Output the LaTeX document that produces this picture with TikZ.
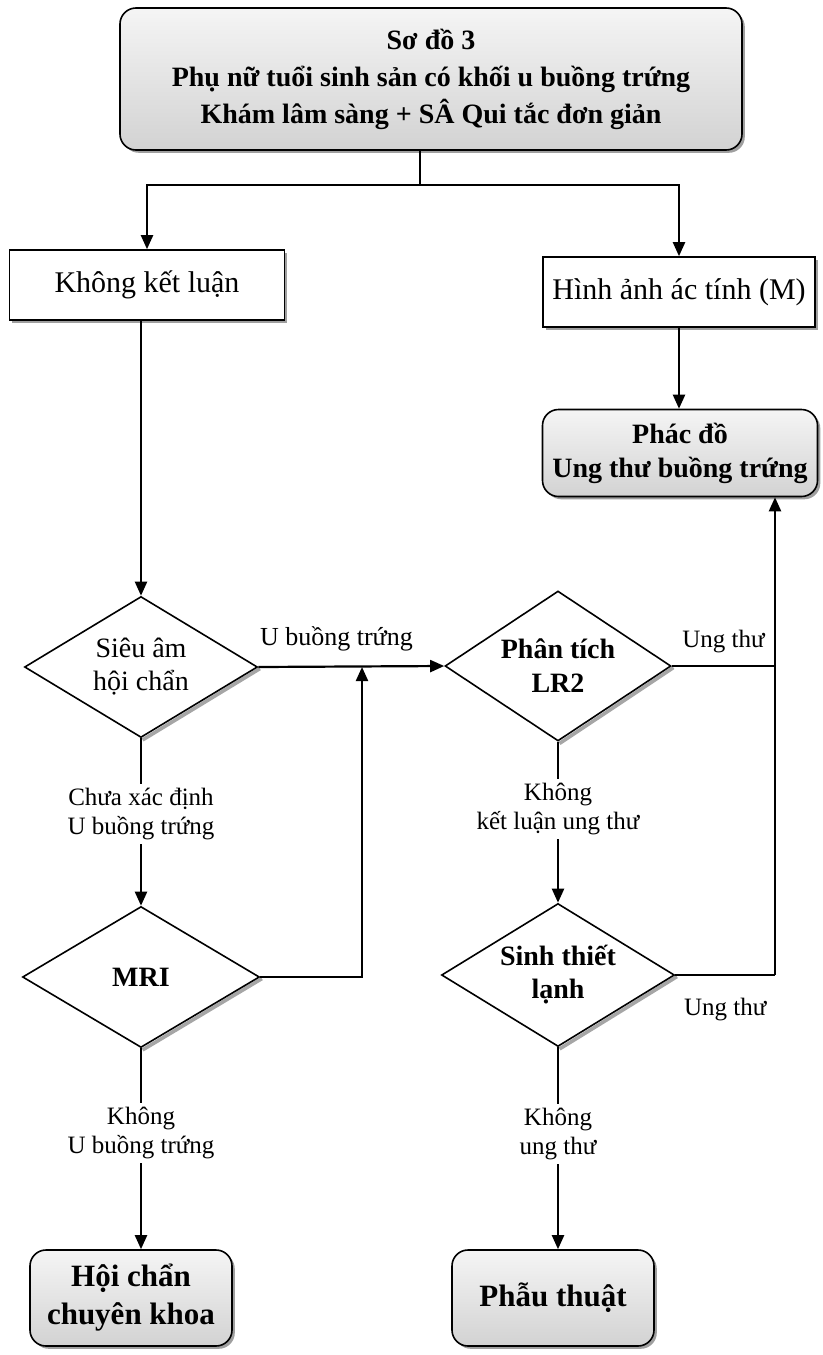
\documentclass[tikz,border=0pt]{standalone}
\usepackage{fontspec}
\setmainfont{Liberation Serif}
\usetikzlibrary{shapes.geometric,arrows.meta,shadows,backgrounds}

\newcommand{\diashade}[1]{\draw[diashadow] ([shift={(0.8pt,-0.8pt)}]#1.east) -- ([shift={(0.8pt,-0.8pt)}]#1.south);}

\tikzset{
    line/.style={line width=1.1pt},
    arr/.style={line, -{Triangle[length=7pt,width=6pt]}},
    boxshadow/.style={drop shadow={shadow xshift=1.4pt, shadow yshift=-1.4pt, fill=gray!75, opacity=1}},
    plainbox/.style={rectangle, draw, line width=0.8pt, fill=white, boxshadow, align=center, font=\fontsize{15}{18}\selectfont},
    greybox/.style={rectangle, rounded corners=8pt, draw, line width=0.8pt, top color=gray!8, bottom color=gray!35, boxshadow, align=center},
    decision/.style={diamond, draw, line width=0.8pt, fill=white, inner sep=0pt, align=center},
    lbl/.style={fill=white, inner sep=2pt, align=center, font=\fontsize{12.5}{14.5}\selectfont},
    diashadow/.style={draw=gray!70, line width=1.8pt}
}

\begin{document}
\begin{tikzpicture}[x=0.5pt, y=-0.5pt]
    \useasboundingbox (0,0) rectangle (823,1355);

    % boxes
    \node[greybox, minimum width=311pt, minimum height=71pt, font=\bfseries\fontsize{14}{18.5}\selectfont] (top) at (431,79)
        {Sơ đồ 3\\Phụ nữ tuổi sinh sản có khối u buồng trứng\\Khám lâm sàng + SÂ Qui tắc đơn giản};
    \node[plainbox, minimum width=137.5pt, minimum height=35pt] (nokl) at (147,285) {Không kết luận};
    \node[plainbox, minimum width=136pt, minimum height=35pt] (mal) at (679,292) {Hình ảnh ác tính (M)};
    \node[greybox, minimum width=137.5pt, minimum height=43.5pt, font=\bfseries\fontsize{14}{17}\selectfont] (phacdo) at (680,453)
        {Phác đồ\\Ung thư buồng trứng};
    \node[greybox, minimum width=101pt, minimum height=48pt, font=\bfseries\fontsize{15.5}{19}\selectfont] (hoichan) at (131,1298)
        {Hội chẩn\\chuyên khoa};
    \node[greybox, minimum width=101pt, minimum height=48pt, font=\bfseries\fontsize{15.5}{19}\selectfont] (phauthuat) at (553,1298)
        {Phẫu thuật};

    % decisions
    \node[decision, aspect=1.65, minimum width=116.5pt, minimum height=70.5pt, font=\fontsize{14}{16.5}\selectfont] (sieuam) at (141,667)
        {Siêu âm\\hội chẩn};
    \node[decision, aspect=1.5, minimum width=113pt, minimum height=75pt, font=\bfseries\fontsize{14}{17}\selectfont] (lr2) at (558,666)
        {Phân tích\\LR2};
    \node[decision, aspect=1.65, minimum width=118.5pt, minimum height=70.5pt, font=\bfseries\fontsize{14}{17}\selectfont] (mri) at (141,977)
        {MRI};
    \node[decision, aspect=1.65, minimum width=116.5pt, minimum height=71.5pt, font=\bfseries\fontsize{14}{16.5}\selectfont] (sinhthiet) at (558,975)
        {Sinh thiết\\lạnh};

    \begin{scope}[on background layer]
        \foreach \d in {sieuam,lr2,mri,sinhthiet} {\diashade{\d}}
    \end{scope}

    % connectors
    \coordinate (split) at (420,185);
    \coordinate (join) at (362,667);
    \coordinate (rise) at (775,975);
    \draw[line] (top.south -| split) -- (split);
    \draw[arr] (split) -| (nokl.north);
    \draw[arr] (split) -| (mal.north);
    \draw[arr] (mal.south) -- (mal.south |- phacdo.north);
    \draw[arr] (nokl.south -| sieuam.north) -- (sieuam.north);
    \draw[arr] (sieuam.east) -- node[lbl, above=5pt, pos=0.42, fill=none, font=\fontsize{13}{15}\selectfont] {U buồng trứng} (lr2.west);
    \draw[arr] (sieuam.south) -- node[lbl, pos=0.45] {Chưa xác định\\U buồng trứng} (mri.north);
    \draw[arr] (mri.east) -| (join);
    \draw[arr] (mri.south) -- node[lbl, pos=0.42] {Không\\U buồng trứng} (mri.south |- hoichan.north);
    \draw[line] (lr2.east) -- node[lbl, above=4pt, fill=none] {Ung thư} (lr2.east -| rise);
    \draw[arr] (lr2.south) -- node[lbl, pos=0.42] {Không\\kết luận ung thư} (sinhthiet.north);
    \draw[line] (sinhthiet.east) -- node[lbl, below=9pt, fill=none] {Ung thư} (rise);
    \draw[arr] (rise) -- (rise |- phacdo.south);
    \draw[arr] (sinhthiet.south) -- node[lbl, pos=0.43] {Không\\ung thư} (sinhthiet.south |- phauthuat.north);
\end{tikzpicture}
\end{document}
